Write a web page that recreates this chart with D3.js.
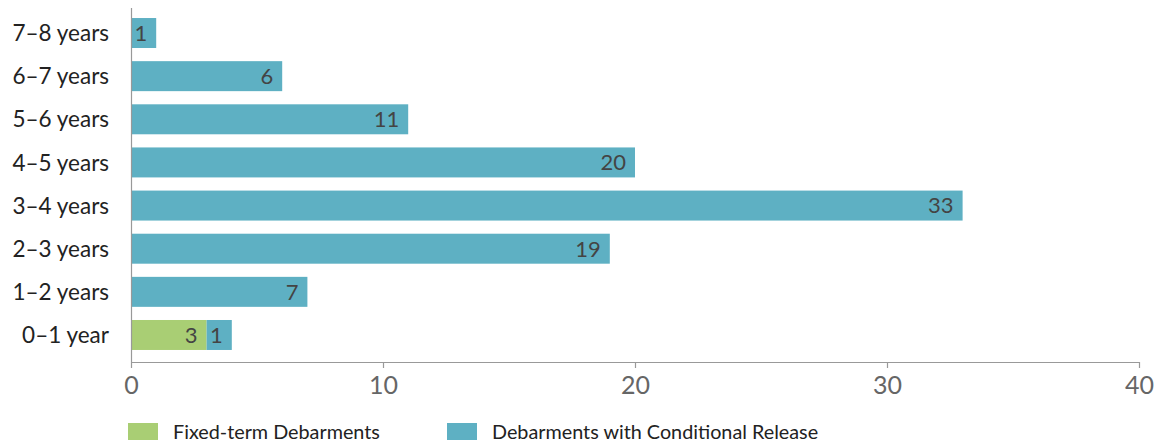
<!DOCTYPE html>
<html>
<head>
<meta charset="utf-8">
<script src="https://cdn.jsdelivr.net/npm/d3@7/dist/d3.min.js"></script>
<style>
  html, body { margin: 0; padding: 0; background: #fff; }
  svg { display: block; font-family: Lato, "Open Sans", sans-serif; }
</style>
</head>
<body>
<svg id="chart" width="1160" height="448"></svg>
<script>
// Debarment lengths, counted by type
const categories = ["7–8 years", "6–7 years", "5–6 years", "4–5 years", "3–4 years", "2–3 years", "1–2 years", "0–1 year"];
const fixedTerm = [0, 0, 0, 0, 0, 0, 0, 3];
const conditional = [1, 6, 11, 20, 33, 19, 7, 1];
const xTicks = [0, 10, 20, 30, 40];
const seriesNames = ["Fixed-term Debarments", "Debarments with Conditional Release"];
const colors = ["#a9ce74", "#5eb0c3"];

const svg = d3.select("#chart");
const plotLeft = 131, plotRight = 1139, plotTop = 8, axisY = 362;

const x = d3.scaleLinear().domain([0, 40]).range([plotLeft, plotRight]);
const y = d3.scaleBand().domain(categories)
  .range([9.4, 358.6]).paddingInner(0.305).paddingOuter(0.2);

const rows = categories.map((c, i) => ({
  cat: c,
  segs: [
    { s: 0, x0: 0, x1: fixedTerm[i], v: fixedTerm[i] },
    { s: 1, x0: fixedTerm[i], x1: fixedTerm[i] + conditional[i], v: conditional[i] }
  ].filter(d => d.v > 0)
}));

const g = svg.append("g");
const row = g.selectAll("g.row").data(rows).join("g").attr("class", "row");

row.selectAll("rect").data(r => r.segs.map(s => ({ ...s, cat: r.cat }))).join("rect")
  .attr("x", d => x(d.x0))
  .attr("y", d => y(d.cat))
  .attr("width", d => x(d.x1) - x(d.x0))
  .attr("height", y.bandwidth())
  .attr("fill", d => colors[d.s]);

row.selectAll("text.val").data(r => r.segs.map(s => ({ ...s, cat: r.cat }))).join("text")
  .attr("class", "val")
  .attr("x", d => x(d.x1) - 9)
  .attr("y", d => y(d.cat) + y.bandwidth() / 2)
  .attr("dy", "0.36em")
  .attr("text-anchor", "end")
  .attr("font-size", 22)
  .attr("fill", "#444")
  .text(d => d.v);

// category labels
g.selectAll("text.cat").data(categories).join("text")
  .attr("class", "cat")
  .attr("x", 109)
  .attr("y", d => y(d) + y.bandwidth() / 2)
  .attr("dy", "0.36em")
  .attr("text-anchor", "end")
  .attr("font-size", 22.5)
  .attr("fill", "#222")
  .text(d => d);

// vertical baseline
svg.append("line")
  .attr("x1", plotLeft + 0.5).attr("x2", plotLeft + 0.5)
  .attr("y1", plotTop).attr("y2", axisY)
  .attr("stroke", "#999").attr("stroke-width", 1.2);

// bottom axis
const xAxis = d3.axisBottom(x).tickValues(xTicks).tickSize(6).tickPadding(8).tickSizeOuter(0);
const ax = svg.append("g").attr("transform", `translate(0,${axisY})`).call(xAxis);
ax.select(".domain").attr("stroke", "#999").attr("stroke-width", 1.2);
ax.selectAll(".tick line").attr("stroke", "#999").attr("stroke-width", 1.2);
ax.selectAll(".tick text").attr("font-size", 25).attr("fill", "#666")
  .attr("font-family", "Lato, 'Open Sans', sans-serif");

// legend
const legendX = [128, 447];
const leg = svg.selectAll("g.leg").data(seriesNames).join("g").attr("class", "leg")
  .attr("transform", (d, i) => `translate(${legendX[i]},423)`);
leg.append("rect").attr("width", 30).attr("height", 17).attr("fill", (d, i) => colors[i]);
leg.append("text").attr("x", 45).attr("y", 8.5).attr("dy", "0.36em")
  .attr("font-size", 19.8).attr("fill", "#222").text(d => d);
</script>
</body>
</html>
